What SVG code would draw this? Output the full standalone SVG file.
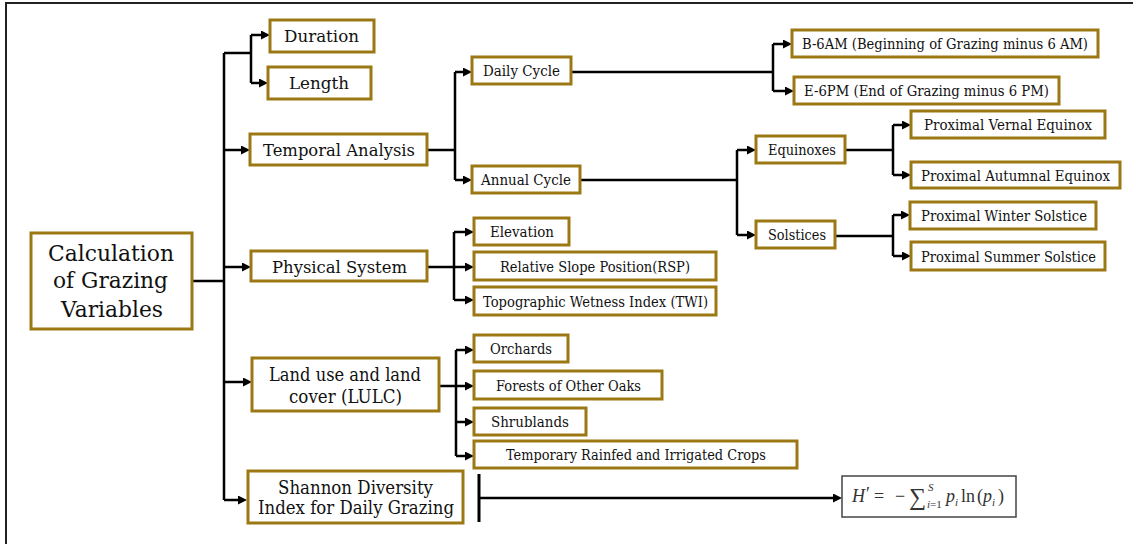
<svg xmlns="http://www.w3.org/2000/svg" width="1133" height="544" viewBox="0 0 1133 544">
<defs>
<marker id="ah" markerUnits="userSpaceOnUse" markerWidth="9" markerHeight="9" refX="3" refY="4.5" orient="auto">
<path d="M0,0 L9,4.5 L0,9 z" fill="#000"/>
</marker>
<style>
.bx{fill:#fff;stroke:#9B7814;stroke-width:3}
.t{font-family:"DejaVu Serif","Liberation Serif",serif;fill:#111}
.s{font-size:14px}
.m{font-size:17px}
.l{font-size:18px}
.xl{font-size:22px}
.c{fill:none;stroke:#000;stroke-width:2.5}
.a{fill:none;stroke:#000;stroke-width:2.5;marker-end:url(#ah)}
.f{font-family:"Liberation Serif","DejaVu Serif",serif;fill:#333}
</style>
</defs>
<rect x="6" y="3" width="1150" height="570" fill="#fff" stroke="#222" stroke-width="2"/>

<g id="connectors">
<path class="c" d="M192,281 H224 M224,53 V500 M224,53 H251 M251,35 V83"/>
<path class="a" d="M251,35 H264"/>
<path class="a" d="M251,83 H262"/>
<path class="a" d="M224,150 H244"/>
<path class="a" d="M224,267 H245"/>
<path class="a" d="M224,382 H246"/>
<path class="a" d="M224,500 H241"/>
<path class="c" d="M427,150 H455 M455,72 V180"/>
<path class="a" d="M455,72 H466"/>
<path class="a" d="M455,180 H466"/>
<path class="c" d="M571,72 H773 M773,44 V91"/>
<path class="a" d="M773,44 H786"/>
<path class="a" d="M773,91 H788"/>
<path class="c" d="M580,180 H737 M737,150 V235"/>
<path class="a" d="M737,150 H750"/>
<path class="a" d="M737,235 H750"/>
<path class="c" d="M845,150 H893 M893,125 V175"/>
<path class="a" d="M893,125 H905"/>
<path class="a" d="M893,175 H905"/>
<path class="c" d="M835,236 H893 M893,215 V256"/>
<path class="a" d="M893,215 H904"/>
<path class="a" d="M893,256 H905"/>
<path class="c" d="M427,267 H454 M454,232 V300"/>
<path class="a" d="M454,232 H468"/>
<path class="a" d="M454,267 H468"/>
<path class="a" d="M454,300 H468"/>
<path class="c" d="M439,386 H456 M456,350 V456"/>
<path class="a" d="M456,350 H468"/>
<path class="a" d="M456,386 H468"/>
<path class="a" d="M456,422 H468"/>
<path class="a" d="M456,456 H468"/>
<path class="c" d="M479,474 V522" style="stroke-width:3"/>
<path class="a" d="M479,498 H836"/>
</g>

<g id="n-main">
<rect class="bx" x="31" y="233" width="161" height="96"/>
<text class="t xl" x="48" y="261" textLength="126" lengthAdjust="spacingAndGlyphs">Calculation</text>
<text class="t xl" x="53" y="288" textLength="115" lengthAdjust="spacingAndGlyphs">of Grazing</text>
<text class="t xl" x="61" y="317" textLength="102" lengthAdjust="spacingAndGlyphs">Variables</text>
</g>
<g id="n-duration">
<rect class="bx" x="270" y="20" width="104" height="32"/>
<text class="t m" x="284" y="42" textLength="75" lengthAdjust="spacingAndGlyphs">Duration</text>
</g>
<g id="n-length">
<rect class="bx" x="268" y="67" width="103" height="32"/>
<text class="t m" x="289" y="89" textLength="60" lengthAdjust="spacingAndGlyphs">Length</text>
</g>
<g id="n-temporal">
<rect class="bx" x="250" y="134" width="177" height="31"/>
<text class="t m" x="263" y="156" textLength="152" lengthAdjust="spacingAndGlyphs">Temporal Analysis</text>
</g>
<g id="n-daily">
<rect class="bx" x="472" y="57" width="99" height="27"/>
<text class="t s" x="483" y="76" textLength="77" lengthAdjust="spacingAndGlyphs">Daily Cycle</text>
</g>
<g id="n-annual">
<rect class="bx" x="472" y="166" width="108" height="27"/>
<text class="t s" x="481" y="185" textLength="90" lengthAdjust="spacingAndGlyphs">Annual Cycle</text>
</g>
<g id="n-b6am">
<rect class="bx" x="792" y="30" width="306" height="27"/>
<text class="t s" x="802" y="49" textLength="286" lengthAdjust="spacingAndGlyphs">B-6AM (Beginning of Grazing minus 6 AM)</text>
</g>
<g id="n-e6pm">
<rect class="bx" x="794" y="77" width="265" height="27"/>
<text class="t s" x="804" y="96" textLength="245" lengthAdjust="spacingAndGlyphs">E-6PM (End of Grazing minus 6 PM)</text>
</g>
<g id="n-equinoxes">
<rect class="bx" x="756" y="136" width="89" height="27"/>
<text class="t s" x="768" y="155" textLength="68" lengthAdjust="spacingAndGlyphs">Equinoxes</text>
</g>
<g id="n-solstices">
<rect class="bx" x="756" y="221" width="79" height="27"/>
<text class="t s" x="768" y="240" textLength="58" lengthAdjust="spacingAndGlyphs">Solstices</text>
</g>
<g id="n-vernal">
<rect class="bx" x="911" y="111" width="194" height="27"/>
<text class="t s" x="924" y="130" textLength="168" lengthAdjust="spacingAndGlyphs">Proximal Vernal Equinox</text>
</g>
<g id="n-autumnal">
<rect class="bx" x="911" y="162" width="209" height="26"/>
<text class="t s" x="921" y="181" textLength="189" lengthAdjust="spacingAndGlyphs">Proximal Autumnal Equinox</text>
</g>
<g id="n-winter">
<rect class="bx" x="910" y="202" width="186" height="27"/>
<text class="t s" x="921" y="221" textLength="166" lengthAdjust="spacingAndGlyphs">Proximal Winter Solstice</text>
</g>
<g id="n-summer">
<rect class="bx" x="911" y="242" width="194" height="28"/>
<text class="t s" x="921" y="262" textLength="175" lengthAdjust="spacingAndGlyphs">Proximal Summer Solstice</text>
</g>
<g id="n-physical">
<rect class="bx" x="251" y="251" width="176" height="30"/>
<text class="t m" x="272" y="273" textLength="135" lengthAdjust="spacingAndGlyphs">Physical System</text>
</g>
<g id="n-elevation">
<rect class="bx" x="474" y="218" width="95" height="27"/>
<text class="t s" x="490" y="237" textLength="64" lengthAdjust="spacingAndGlyphs">Elevation</text>
</g>
<g id="n-rsp">
<rect class="bx" x="474" y="252" width="242" height="28"/>
<text class="t s" x="500" y="272" textLength="190" lengthAdjust="spacingAndGlyphs">Relative Slope Position(RSP)</text>
</g>
<g id="n-twi">
<rect class="bx" x="474" y="287" width="242" height="28"/>
<text class="t s" x="483" y="307" textLength="225" lengthAdjust="spacingAndGlyphs">Topographic Wetness Index (TWI)</text>
</g>
<g id="n-lulc">
<rect class="bx" x="252" y="358" width="187" height="53"/>
<text class="t l" x="269" y="381" textLength="152" lengthAdjust="spacingAndGlyphs">Land use and land</text>
<text class="t l" x="289" y="403" textLength="113" lengthAdjust="spacingAndGlyphs">cover (LULC)</text>
</g>
<g id="n-orchards">
<rect class="bx" x="474" y="335" width="94" height="27"/>
<text class="t s" x="490" y="354" textLength="62" lengthAdjust="spacingAndGlyphs">Orchards</text>
</g>
<g id="n-forests">
<rect class="bx" x="474" y="371" width="188" height="28"/>
<text class="t s" x="496" y="391" textLength="145" lengthAdjust="spacingAndGlyphs">Forests of Other Oaks</text>
</g>
<g id="n-shrublands">
<rect class="bx" x="474" y="408" width="112" height="27"/>
<text class="t s" x="491" y="427" textLength="78" lengthAdjust="spacingAndGlyphs">Shrublands</text>
</g>
<g id="n-temporary">
<rect class="bx" x="474" y="441" width="323" height="27"/>
<text class="t s" x="506" y="460" textLength="260" lengthAdjust="spacingAndGlyphs">Temporary Rainfed and Irrigated Crops</text>
</g>
<g id="n-shannon">
<rect class="bx" x="248" y="471" width="215" height="52"/>
<text class="t l" x="278" y="494" textLength="155" lengthAdjust="spacingAndGlyphs">Shannon Diversity</text>
<text class="t l" x="258" y="514" textLength="196" lengthAdjust="spacingAndGlyphs">Index for Daily Grazing</text>
</g>
<g id="n-formula">
<rect x="842" y="476" width="174" height="41" fill="#fff" stroke="#444" stroke-width="1.5"/>
<text class="f" x="852" y="502" font-size="18" font-style="italic">H</text>
<text class="f" x="866" y="500" font-size="18">′</text>
<text class="f" x="874" y="502" font-size="18">=</text>
<text class="f" x="895" y="502" font-size="18">−</text>
<text class="f" x="909" y="505" font-size="24">∑</text>
<text class="f" x="928" y="491" font-size="11" font-style="italic">S</text>
<text class="f" x="927" y="508" font-size="11"><tspan font-style="italic">i</tspan>=1</text>
<text class="f" x="946" y="502" font-size="18" font-style="italic">p</text>
<text class="f" x="955" y="506" font-size="11" font-style="italic">i</text>
<text class="f" x="961" y="502" font-size="18">ln</text>
<text class="f" x="977" y="502" font-size="18">(</text>
<text class="f" x="983" y="502" font-size="18" font-style="italic">p</text>
<text class="f" x="992" y="506" font-size="11" font-style="italic">i</text>
<text class="f" x="998" y="502" font-size="18">)</text>
</g>
</svg>
